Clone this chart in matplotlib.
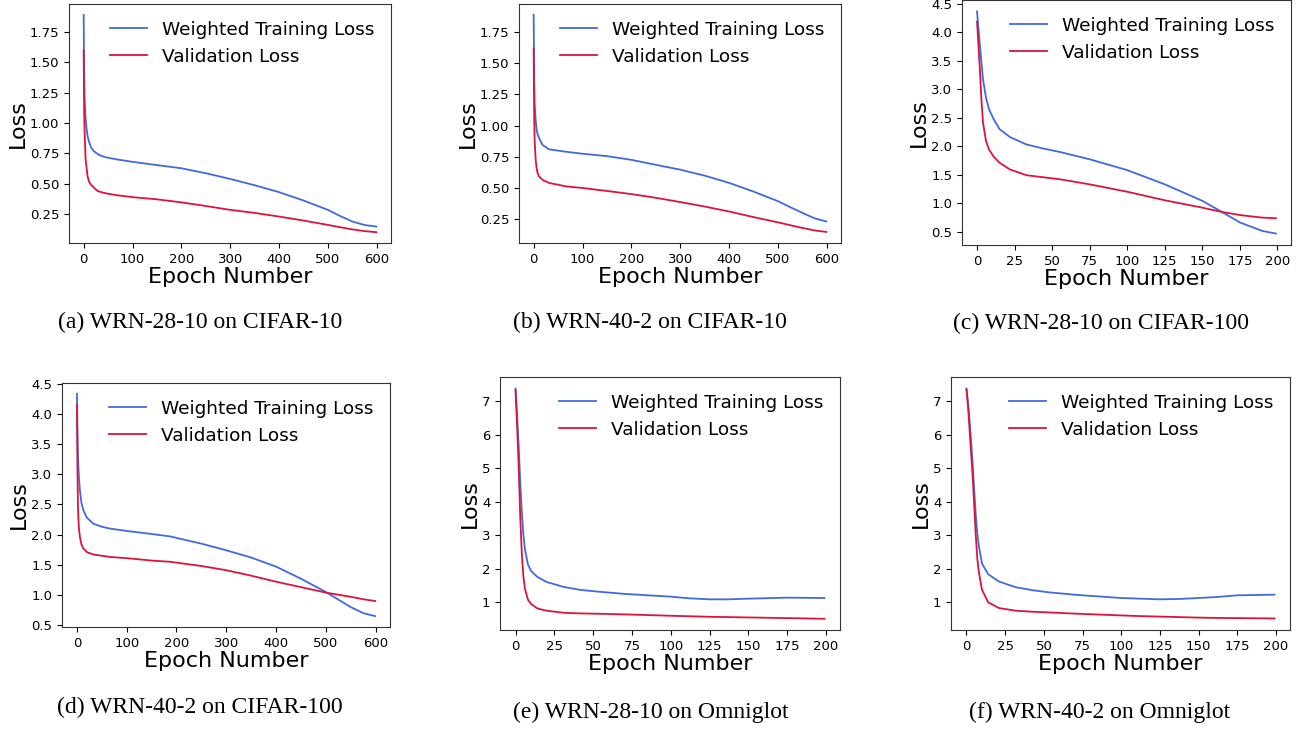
import matplotlib
matplotlib.use("Agg")
import matplotlib.pyplot as plt

# ---------------- data ----------------
epochs_a = [0, 1, 2, 4, 6, 8, 11, 15, 20, 28, 35, 45, 66, 100, 150, 200, 250, 300, 350, 400, 450, 500, 525, 550, 575, 599]
train_a = [1.89, 1.40, 1.19, 1.04, 0.95, 0.89, 0.846, 0.80, 0.77, 0.745, 0.73, 0.717, 0.70, 0.679, 0.652, 0.626, 0.585, 0.538, 0.486, 0.429, 0.36, 0.283, 0.232, 0.187, 0.158, 0.146]
val_a = [1.596, 1.10, 0.915, 0.70, 0.626, 0.56, 0.516, 0.49, 0.47, 0.44, 0.43, 0.42, 0.405, 0.388, 0.37, 0.345, 0.315, 0.283, 0.258, 0.228, 0.195, 0.159, 0.14, 0.122, 0.108, 0.099]

epochs_b = [0, 1, 2, 4, 6, 8, 11, 18, 31, 66, 100, 150, 200, 250, 300, 350, 400, 450, 500, 525, 550, 575, 599]
train_b = [1.89, 1.40, 1.18, 1.05, 0.97, 0.93, 0.90, 0.846, 0.81, 0.79, 0.774, 0.755, 0.725, 0.685, 0.646, 0.598, 0.54, 0.47, 0.393, 0.345, 0.299, 0.255, 0.23]
val_b = [1.62, 1.10, 0.886, 0.73, 0.66, 0.62, 0.592, 0.565, 0.54, 0.512, 0.499, 0.475, 0.45, 0.42, 0.386, 0.35, 0.31, 0.265, 0.223, 0.20, 0.178, 0.158, 0.146]

epochs_c = [0, 1, 2, 3, 4, 6, 8, 11, 15, 22, 33, 44, 55, 75, 100, 125, 150, 162, 175, 190, 199]
train_c = [4.37, 4.05, 3.75, 3.45, 3.17, 2.85, 2.65, 2.48, 2.30, 2.16, 2.03, 1.96, 1.90, 1.77, 1.58, 1.33, 1.04, 0.86, 0.66, 0.51, 0.465]
val_c = [4.19, 3.75, 3.30, 2.78, 2.41, 2.09, 1.94, 1.82, 1.71, 1.59, 1.49, 1.455, 1.42, 1.33, 1.20, 1.05, 0.92, 0.85, 0.79, 0.745, 0.734]

epochs_d = [0, 1, 2, 3, 4, 6, 9, 13, 20, 33, 50, 66, 100, 150, 187, 250, 300, 350, 400, 450, 500, 550, 575, 599]
train_d = [4.33, 3.80, 3.35, 3.12, 2.95, 2.73, 2.53, 2.40, 2.28, 2.18, 2.13, 2.10, 2.06, 2.01, 1.97, 1.85, 1.74, 1.62, 1.47, 1.27, 1.05, 0.80, 0.70, 0.65]
val_d = [4.15, 3.10, 2.50, 2.25, 2.10, 1.96, 1.84, 1.77, 1.71, 1.67, 1.65, 1.63, 1.61, 1.57, 1.55, 1.48, 1.41, 1.32, 1.22, 1.13, 1.04, 0.97, 0.93, 0.90]

epochs_e = [0, 1, 2, 3, 4, 5, 6, 8, 10, 14, 20, 31, 42, 53, 71, 100, 112, 125, 137, 150, 175, 199]
train_e = [7.38, 6.58, 5.70, 4.60, 3.75, 3.05, 2.60, 2.13, 1.94, 1.76, 1.61, 1.46, 1.37, 1.32, 1.25, 1.17, 1.12, 1.09, 1.09, 1.11, 1.14, 1.13]
val_e = [7.33, 6.28, 5.10, 3.60, 2.50, 1.80, 1.42, 1.08, 0.95, 0.82, 0.75, 0.69, 0.67, 0.66, 0.64, 0.60, 0.585, 0.57, 0.56, 0.55, 0.53, 0.51]

epochs_f = [0, 1, 2, 3, 4, 5, 6, 7, 8, 10, 14, 21, 32, 43, 53, 72, 100, 112, 125, 137, 150, 162, 175, 199]
train_f = [7.38, 6.95, 6.42, 5.80, 5.12, 4.35, 3.60, 3.05, 2.68, 2.16, 1.84, 1.62, 1.45, 1.36, 1.30, 1.22, 1.13, 1.11, 1.09, 1.10, 1.13, 1.16, 1.21, 1.23]
val_f = [7.35, 6.85, 6.15, 5.45, 4.75, 3.90, 3.00, 2.30, 1.90, 1.38, 1.00, 0.83, 0.75, 0.72, 0.70, 0.66, 0.61, 0.59, 0.575, 0.56, 0.545, 0.535, 0.53, 0.52]

captions = ["(a) WRN-28-10 on CIFAR-10", "(b) WRN-40-2 on CIFAR-10", "(c) WRN-28-10 on CIFAR-100",
            "(d) WRN-40-2 on CIFAR-100", "(e) WRN-28-10 on Omniglot", "(f) WRN-40-2 on Omniglot"]
legend_labels = ["Weighted Training Loss", "Validation Loss"]

xticks_600 = [0, 100, 200, 300, 400, 500, 600]
xticks_200 = [0, 25, 50, 75, 100, 125, 150, 175, 200]
yticks_ab = [0.25, 0.50, 0.75, 1.00, 1.25, 1.50, 1.75]
yticks_cd = [0.5, 1.0, 1.5, 2.0, 2.5, 3.0, 3.5, 4.0, 4.5]
yticks_ef = [1, 2, 3, 4, 5, 6, 7]

# ---------------- layout ----------------
W, H = 1307, 730
fig = plt.figure(figsize=(W / 100, H / 100), dpi=100)

def rect(l, r, t, b):
    return [l / W, 1 - b / H, (r - l) / W, (b - t) / H]

panels = [
    dict(box=(69, 391, 4, 243), ep=epochs_a, tr=train_a, va=val_a, xt=xticks_600, yt=yticks_ab,
         yfmt="{:.2f}", xlim=(-30, 629), ylim=(0.01, 1.98), cpos=(200, 322)),
    dict(box=(519, 841, 4, 243), ep=epochs_b, tr=train_b, va=val_b, xt=xticks_600, yt=yticks_ab,
         yfmt="{:.2f}", xlim=(-30, 629), ylim=(0.057, 1.977), cpos=(650, 322)),
    dict(box=(962, 1291, 0, 245), ep=epochs_c, tr=train_c, va=val_c, xt=xticks_200, yt=yticks_cd,
         yfmt="{:.1f}", xlim=(-10, 209), ylim=(0.264, 4.57), cpos=(1101, 323)),
    dict(box=(62, 390, 383, 627), ep=epochs_d, tr=train_d, va=val_d, xt=xticks_600, yt=yticks_cd,
         yfmt="{:.1f}", xlim=(-30, 629), ylim=(0.47, 4.51), cpos=(200, 707)),
    dict(box=(500, 840, 377, 630), ep=epochs_e, tr=train_e, va=val_e, xt=xticks_200, yt=yticks_ef,
         yfmt="{:.0f}", xlim=(-10, 209), ylim=(0.175, 7.725), cpos=(651, 712)),
    dict(box=(951, 1290, 377, 630), ep=epochs_f, tr=train_f, va=val_f, xt=xticks_200, yt=yticks_ef,
         yfmt="{:.0f}", xlim=(-10, 209), ylim=(0.175, 7.725), cpos=(1100, 712)),
]

for p, cap in zip(panels, captions):
    ax = fig.add_axes(rect(*p["box"]))
    ax.plot(p["ep"], p["tr"], color="royalblue", lw=1.3, label=legend_labels[0])
    ax.plot(p["ep"], p["va"], color="crimson", lw=1.3, label=legend_labels[1])
    ax.set_xlim(*p["xlim"])
    ax.set_ylim(*p["ylim"])
    ax.set_xticks(p["xt"])
    ax.set_yticks(p["yt"])
    ax.set_yticklabels([p["yfmt"].format(v) for v in p["yt"]])
    ax.tick_params(labelsize=9.5, length=3.5, width=0.8)
    ax.set_xlabel("Epoch Number", fontsize=16, labelpad=1)
    ax.set_ylabel("Loss", fontsize=16, labelpad=1.5)
    for s in ax.spines.values():
        s.set_color("#333333")
    ax.legend(loc="upper right", frameon=False, fontsize=13.3)
    cx, cy = p["cpos"]
    fig.text(cx / W, 1 - cy / H, cap, ha="center", va="center",
             fontsize=17, family="Liberation Serif")

fig.savefig("out.png", dpi=100)
